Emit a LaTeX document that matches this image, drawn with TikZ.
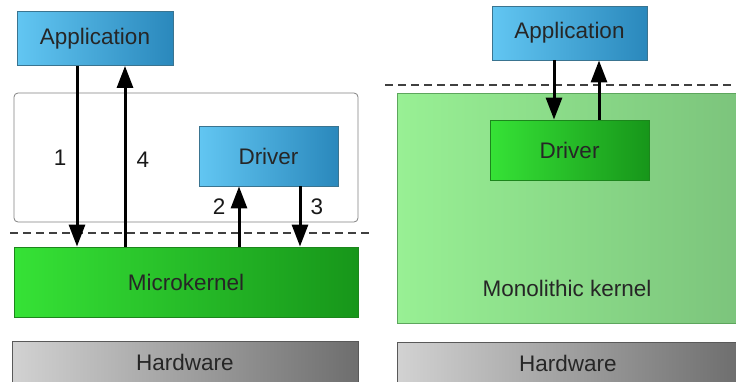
\documentclass[tikz,border=0pt]{standalone}
\usepackage{fontspec}
\setmainfont{Liberation Sans}
\usetikzlibrary{arrows.meta}

\definecolor{appA}{HTML}{62C6F2}
\definecolor{appB}{HTML}{2A88BC}
\definecolor{appEdge}{HTML}{3A7490}
\definecolor{kerA}{HTML}{36E236}
\definecolor{kerB}{HTML}{17961A}
\definecolor{kerEdge}{HTML}{1C861C}
\definecolor{monoA}{HTML}{98F094}
\definecolor{monoB}{HTML}{7CC47C}
\definecolor{monoEdge}{HTML}{5DA65D}
\definecolor{hwA}{HTML}{D2D2D2}
\definecolor{hwB}{HTML}{6E6E6E}

\begin{document}
\begin{tikzpicture}[
  x=1pt, y=-1pt,
  >={Triangle[length=22pt,width=16pt]},
  every node/.style={font=\fontsize{22.5}{27}\selectfont, text=black!85, inner sep=0pt},
  appbox/.style={draw=appEdge, line width=0.9pt, left color=appA, right color=appB,
    minimum width=156pt, minimum height=54pt},
  kerbox/.style={draw=kerEdge, line width=0.9pt, left color=kerA, right color=kerB},
  hwbox/.style={draw=black!65, line width=0.9pt, left color=hwA, right color=hwB,
    minimum height=42pt},
  flow/.style={->, line width=3pt},
  num/.style={text=black!90}
]
  \useasboundingbox (0,0) rectangle (736,381);

  % microkernel
  \node[draw=black!50, line width=0.8pt, rounded corners=4pt, fill=white,
    minimum width=344pt, minimum height=129pt] (userbox) at (186,157.5) {};
  \node[appbox] (appL) at (95,38.5) {Application};
  \node[appbox, minimum width=139pt, minimum height=60pt] (drvL) at (268.5,156) {Driver};
  \node[kerbox, minimum width=344pt, minimum height=70pt] (ukernel) at (186,282) {Microkernel};
  \node[hwbox, minimum width=346pt, anchor=north] (hwL) at (185,341) {Hardware};
  \draw[black!75, line width=1.4pt, dash pattern=on 8pt off 5pt] (10,233) -- (370,233);

  \draw[flow] ([xshift=-18pt]appL.south) -- ([xshift=-18pt]appL.south |- ukernel.north)
    node[num, pos=0.51, left=9pt] {1};
  \draw[flow] ([xshift=30pt]appL.south |- ukernel.north) -- ([xshift=30pt]appL.south)
    node[num, pos=0.48, right=10pt] {4};
  \draw[flow] ([xshift=-29.5pt]drvL.south |- ukernel.north) -- ([xshift=-29.5pt]drvL.south)
    node[num, pos=0.66, left=12pt] {2};
  \draw[flow] ([xshift=31.5pt]drvL.south) -- ([xshift=31.5pt]drvL.south |- ukernel.north)
    node[num, pos=0.33, right=9pt] {3};

  % monolithic kernel
  \node[draw=monoEdge, line width=0.9pt, left color=monoA, right color=monoB,
    minimum width=341pt, minimum height=230pt, anchor=north west] (mkernel) at (397,93) {};
  \node (mlabel) at (567,288) {Monolithic kernel};
  \node[appbox, minimum width=155pt] (appR) at (569.5,33) {Application};
  \node[kerbox, minimum width=159pt, minimum height=60pt] (drvR) at (569.5,150) {Driver};
  \node[hwbox, minimum width=341pt, anchor=north west] (hwR) at (397,342) {Hardware};
  \draw[black!75, line width=1.4pt, dash pattern=on 8pt off 5pt] (385,85) -- (736,85);

  \draw[flow] ([xshift=-15.5pt]appR.south) -- ([xshift=-15.5pt]drvR.north);
  \draw[flow] ([xshift=29.5pt]drvR.north) -- ([xshift=29.5pt]appR.south);
\end{tikzpicture}
\end{document}
